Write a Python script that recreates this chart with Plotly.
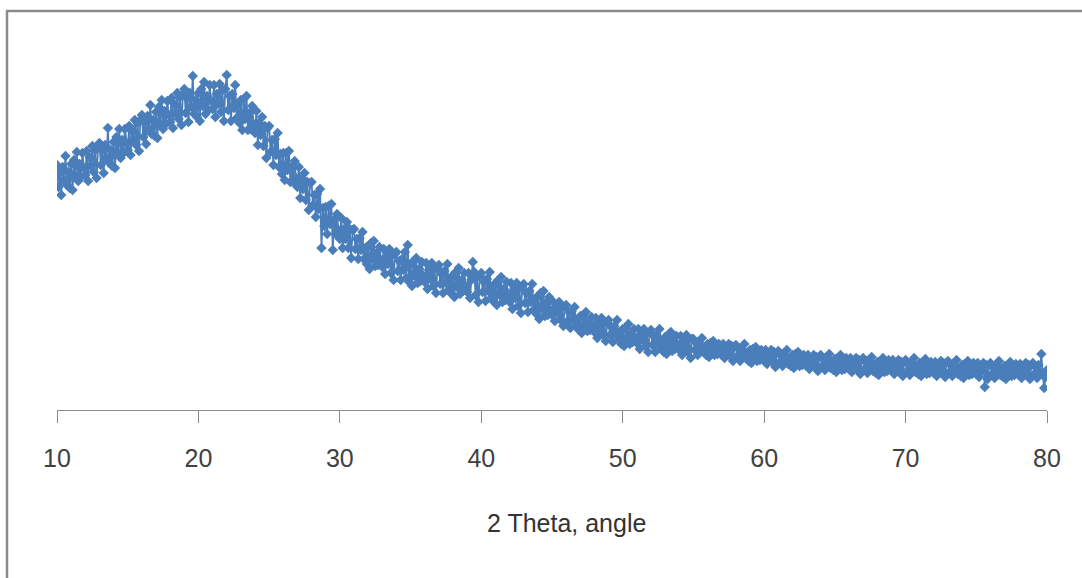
import numpy as np
import plotly.graph_objects as go

# 2-theta scan: 10 to 80 deg, 0.1 deg step
two_theta_start = 10.0
two_theta_step = 0.1

intensity = [
    245, 223, 238, 215, 243, 230, 254, 225, 238, 222,   # 10
    246, 220, 250, 234, 258, 229, 246, 233, 257, 242,   # 11
    235, 259, 229, 253, 244, 264, 238, 260, 232, 262,   # 12
    267, 245, 260, 237, 265, 252, 282, 247, 260, 244,   # 13
    268, 242, 273, 257, 281, 252, 270, 257, 281, 267,   # 14
    260, 284, 255, 279, 270, 290, 265, 287, 259, 290,   # 15
    295, 273, 288, 266, 294, 281, 305, 276, 290, 274,   # 16
    298, 272, 303, 286, 310, 281, 299, 286, 309, 295,   # 17
    288, 312, 282, 306, 297, 317, 291, 313, 285, 315,   # 18
    321, 297, 312, 288, 317, 303, 334, 296, 310, 293,   # 19
    317, 289, 321, 304, 328, 296, 314, 300, 325, 309,   # 20
    301, 325, 293, 316, 306, 326, 298, 320, 289, 321,   # 21
    335, 300, 314, 289, 316, 302, 325, 292, 305, 287,   # 22
    310, 280, 311, 291, 314, 280, 297, 281, 304, 286,   # 23
    277, 299, 265, 287, 275, 293, 264, 284, 252, 282,   # 24
    284, 258, 270, 245, 271, 255, 277, 243, 256, 236,   # 25
    257, 230, 257, 240, 259, 228, 243, 228, 249, 232,   # 26
    223, 243, 212, 232, 221, 237, 210, 228, 200, 227,   # 27
    228, 205, 215, 193, 216, 201, 221, 162, 202, 184,   # 28
    203, 176, 204, 186, 206, 160, 190, 176, 196, 180,   # 29
    171, 192, 162, 181, 171, 188, 162, 181, 152, 180,   # 30
    181, 161, 171, 151, 172, 160, 178, 151, 162, 146,   # 31
    164, 141, 167, 151, 169, 144, 157, 145, 163, 150,   # 32
    143, 161, 136, 154, 146, 161, 137, 155, 130, 156,   # 33
    158, 139, 149, 130, 151, 140, 158, 132, 165, 128,   # 34
    146, 124, 149, 134, 152, 127, 141, 129, 148, 134,   # 35
    128, 147, 121, 140, 131, 147, 124, 141, 117, 142,   # 36
    145, 126, 136, 117, 139, 127, 146, 120, 131, 116,   # 37
    135, 113, 138, 123, 142, 116, 130, 119, 137, 124,   # 38
    118, 137, 112, 130, 148, 138, 115, 133, 108, 134,   # 39
    137, 118, 128, 109, 131, 119, 138, 112, 123, 108,   # 40
    127, 105, 130, 115, 133, 108, 121, 110, 128, 115,   # 41
    108, 127, 101, 120, 112, 127, 104, 122, 97, 123,    # 42
    126, 107, 117, 98, 119, 108, 126, 100, 111, 96,     # 43
    114, 91, 117, 101, 119, 94, 107, 95, 113, 100,      # 44
    95, 108, 89, 103, 97, 108, 90, 103, 84, 103,        # 45
    105, 89, 98, 82, 99, 90, 103, 84, 91, 80,           # 46
    94, 77, 95, 84, 98, 79, 88, 80, 93, 84,             # 47
    78, 92, 72, 87, 80, 92, 75, 87, 69, 87,             # 48
    90, 75, 83, 68, 84, 76, 90, 70, 78, 66,             # 49
    81, 64, 82, 71, 86, 66, 76, 68, 81, 72,             # 50
    67, 81, 61, 76, 70, 81, 64, 77, 58, 77,             # 51
    80, 65, 74, 58, 75, 67, 81, 62, 69, 58,             # 52
    73, 56, 75, 63, 78, 59, 69, 61, 74, 65,             # 53
    60, 74, 55, 69, 63, 75, 58, 71, 52, 71,             # 54
    71, 60, 67, 55, 68, 61, 72, 58, 63, 55,             # 55
    66, 53, 67, 58, 69, 55, 63, 56, 66, 59,             # 56
    55, 66, 52, 62, 57, 66, 54, 64, 49, 63,             # 57
    65, 54, 61, 49, 62, 55, 66, 52, 57, 49,             # 58
    60, 47, 61, 52, 63, 49, 57, 50, 60, 53,             # 59
    49, 60, 46, 56, 51, 60, 48, 58, 43, 57,             # 60
    59, 48, 55, 44, 57, 49, 60, 46, 52, 44,             # 61
    55, 42, 56, 47, 58, 44, 52, 45, 55, 48,             # 62
    44, 55, 41, 52, 47, 55, 43, 53, 39, 53,             # 63
    55, 44, 51, 40, 53, 45, 56, 42, 48, 40,             # 64
    51, 38, 52, 44, 55, 40, 48, 41, 52, 45,             # 65
    41, 52, 38, 49, 44, 52, 40, 50, 36, 50,             # 66
    52, 41, 48, 37, 50, 42, 53, 39, 45, 37,             # 67
    48, 35, 49, 41, 52, 38, 46, 39, 50, 43,             # 68
    39, 50, 36, 47, 42, 50, 38, 48, 34, 48,             # 69
    50, 39, 46, 35, 48, 41, 52, 38, 44, 36,             # 70
    47, 34, 48, 40, 51, 36, 44, 37, 48, 41,             # 71
    37, 48, 34, 45, 40, 49, 37, 47, 33, 47,             # 72
    49, 38, 45, 34, 47, 39, 50, 36, 42, 34,             # 73
    45, 32, 46, 38, 49, 35, 43, 36, 47, 40,             # 74
    36, 47, 33, 44, 39, 47, 23, 45, 31, 45,             # 75
    47, 36, 43, 32, 45, 38, 49, 35, 41, 33,             # 76
    44, 31, 45, 37, 48, 34, 42, 35, 46, 39,             # 77
    35, 46, 32, 43, 38, 47, 35, 45, 31, 45,             # 78
    47, 36, 43, 32, 45, 38, 56, 35, 22, 33,             # 79
    40,                                                 # 80
]

tick_values = [10, 20, 30, 40, 50, 60, 70, 80]
tick_labels = ["10", "20", "30", "40", "50", "60", "70", "80"]
x_title = "2 Theta, angle"

two_theta = two_theta_start + two_theta_step * np.arange(len(intensity))

W, H = 1082, 578
L, R, T, B = 57, W - 1047, 10, H - 410
pw, ph = W - L - R, H - T - B

def px_x(p):
    return (p - L) / pw

def px_y(p):
    return (H - B - p) / ph

blue = "#4a7ebb"
grey = "#8a8a8a"

fig = go.Figure()
fig.add_trace(go.Scatter(
    x=two_theta, y=intensity, mode="lines+markers",
    line=dict(color=blue, width=1.8),
    marker=dict(symbol="diamond", size=8, color=blue, line=dict(width=0)),
    showlegend=False, hoverinfo="x+y",
))

fig.update_layout(
    width=W, height=H,
    margin=dict(l=L, r=R, t=T, b=B, pad=0),
    paper_bgcolor="white", plot_bgcolor="white",
    showlegend=False,
    xaxis=dict(
        range=[10, 80], tickmode="array", tickvals=tick_values, ticktext=tick_labels,
        showgrid=False, zeroline=False, showline=True, linecolor=grey, linewidth=1,
        ticks="outside", ticklen=12, tickcolor=grey, tickwidth=1,
        tickfont=dict(family="Liberation Sans, Arial, sans-serif", size=25, color="#404040"),
        ticklabelstandoff=14,
        fixedrange=True,
    ),
    yaxis=dict(range=[0, 400], visible=False, fixedrange=True),
    annotations=[dict(
        text=x_title, xref="paper", yref="paper", x=px_x(566), y=px_y(523),
        xanchor="center", yanchor="middle", showarrow=False,
        font=dict(family="Liberation Sans, Arial, sans-serif", size=25, color="#333333"),
    )],
    shapes=[
        dict(type="line", xref="paper", yref="paper", x0=px_x(7), x1=px_x(7),
             y0=px_y(10), y1=px_y(H + 5), line=dict(color=grey, width=2.5), layer="above"),
        dict(type="line", xref="paper", yref="paper", x0=px_x(6), x1=px_x(W + 5),
             y0=px_y(11), y1=px_y(11), line=dict(color=grey, width=2.5), layer="above"),
    ],
)

fig.write_html("out.html", config={"displayModeBar": False},
               post_script="document.body.style.margin='0px';")
